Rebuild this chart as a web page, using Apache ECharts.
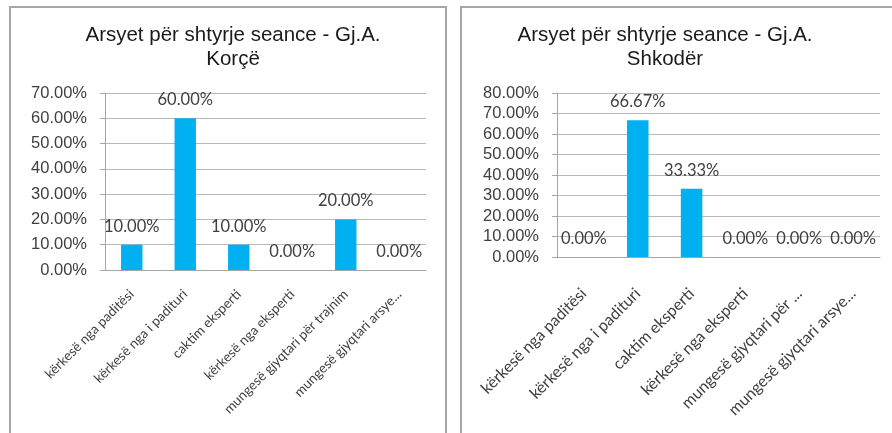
<!DOCTYPE html>
<html>
<head>
<meta charset="utf-8">
<script src="https://cdn.jsdelivr.net/npm/echarts@6/dist/echarts.min.js"></script>
<style>
  html, body { margin: 0; padding: 0; background: #fff; }
  #chart { width: 892px; height: 433px; }
</style>
</head>
<body>
<div id="chart"></div>
<script>
// Gj.A. Korçë
const korceCategories = ['kërkesë nga paditësi', 'kërkesë nga i padituri', 'caktim eksperti', 'kërkesë nga eksperti', 'mungesë gjyqtari për trajnim', 'mungesë gjyqtari arsye...']
const korceValues = [0.10, 0.60, 0.10, 0.00, 0.20, 0.00]
// Gj.A. Shkodër
const shkoderCategories = ['kërkesë nga paditësi', 'kërkesë nga i padituri', 'caktim eksperti', 'kërkesë nga eksperti', 'mungesë gjyqtari për ...', 'mungesë gjyqtari arsye...']
const shkoderValues = [0.00, 0.6667, 0.3333, 0.00, 0.00, 0.00]

const pct = (v) => (v * 100).toFixed(2) + '%'

let myChart = echarts.init(document.getElementById('chart'))

const titleStyle = {
  fontFamily: 'Liberation Sans, Arial, sans-serif',
  fontSize: 20.5,
  fontWeight: 'normal',
  color: '#1a1a1a',
  lineHeight: 24
}

function yAxisFor(max, grid) {
  return {
    type: 'value',
    gridIndex: grid,
    min: 0,
    max: max,
    interval: 0.1,
    axisLine: { show: true, lineStyle: { color: '#a6a6a6' } },
    axisTick: { show: true, length: 5, lineStyle: { color: '#a6a6a6' } },
    splitLine: { lineStyle: { color: '#b8b8b8' } },
    axisLabel: {
      margin: 18,
      fontSize: 16.5,
      fontFamily: 'Liberation Sans, Arial, sans-serif',
      color: '#404040',
      formatter: pct
    }
  }
}

function xAxisFor(cats, grid, size, margin) {
  return {
    type: 'category',
    gridIndex: grid,
    data: cats,
    axisLine: { lineStyle: { color: '#a6a6a6' } },
    axisTick: { length: 5, lineStyle: { color: '#a6a6a6' } },
    axisLabel: {
      rotate: 45,
      interval: 0,
      margin: margin,
      fontSize: size,
      fontFamily: 'Lato, Open Sans, sans-serif',
      color: '#404040'
    }
  }
}

function barsFor(values, grid) {
  return {
    type: 'bar',
    xAxisIndex: grid,
    yAxisIndex: grid,
    data: values,
    barWidth: '40%',
    itemStyle: { color: '#00b0f0' },
    label: {
      show: true,
      position: 'top',
      distance: 10,
      fontSize: 16.5,
      fontFamily: 'Lato, Open Sans, sans-serif',
      color: '#404040',
      formatter: (p) => pct(p.value)
    }
  }
}

let option = {
  animation: false,
  title: [
    { text: 'Arsyet për shtyrje seance - Gj.A.\nKorçë', left: 228, top: 18, textAlign: 'center', textStyle: titleStyle },
    { text: 'Arsyet për shtyrje seance - Gj.A.\nShkodër', left: 660, top: 18, textAlign: 'center', textStyle: titleStyle }
  ],
  graphic: [
    { type: 'rect', shape: { x: 10, y: 7, width: 436, height: 460 }, style: { fill: 'none', stroke: '#a6a6a6', lineWidth: 2 } },
    { type: 'rect', shape: { x: 461, y: 7, width: 440, height: 460 }, style: { fill: 'none', stroke: '#a6a6a6', lineWidth: 2 } }
  ],
  grid: [
    { left: 105, top: 93, width: 321, height: 177 },
    { left: 557, top: 93, width: 323, height: 164 }
  ],
  xAxis: [
    xAxisFor(korceCategories, 0, 13.5, 22),
    xAxisFor(shkoderCategories, 1, 16, 34)
  ],
  yAxis: [
    yAxisFor(0.7, 0),
    yAxisFor(0.8, 1)
  ],
  series: [
    barsFor(korceValues, 0),
    barsFor(shkoderValues, 1)
  ]
}

myChart.setOption(option)
</script>
</body>
</html>
